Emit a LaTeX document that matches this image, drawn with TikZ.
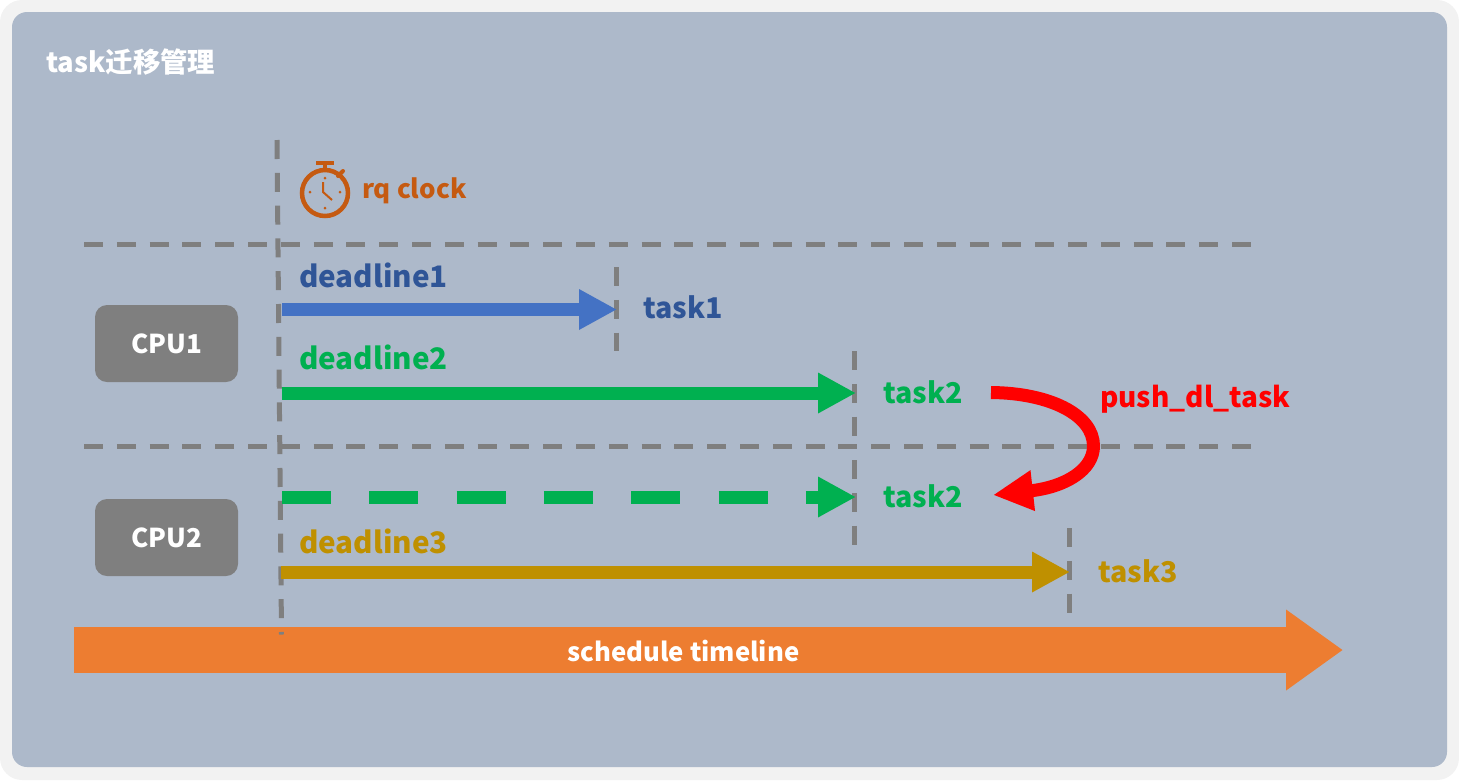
\documentclass[tikz,border=0pt]{standalone}
\usepackage{fontspec}
\setmainfont{Noto Sans CJK SC}
\usetikzlibrary{arrows.meta}

\definecolor{framegray}{HTML}{F2F2F2}
\definecolor{panelblue}{HTML}{ADB9CA}
\definecolor{linegray}{HTML}{7F7F7F}
\definecolor{taskblue}{HTML}{2F5597}
\definecolor{arrowblue}{HTML}{4472C4}
\definecolor{taskgreen}{HTML}{00B050}
\definecolor{taskgold}{HTML}{BF9000}
\definecolor{clockorange}{HTML}{C55A11}
\definecolor{timeorange}{HTML}{ED7D31}

\tikzset{
    guide/.style={draw=linegray, line width=5pt, dash pattern=on 19pt off 13.8pt},
    cpubox/.style={fill=linegray, rounded corners=12pt, minimum width=143pt, minimum height=77pt, inner sep=0pt, text=white, font=\fontsize{26}{26}\selectfont\bfseries},
    label/.style={inner sep=0pt, font=\fontsize{28.6}{28.6}\selectfont\bfseries},
    deadlabel/.style={label, anchor=west, font=\fontsize{29.6}{29.6}\selectfont\bfseries},
    deadline/.style={line width=13pt, -{Triangle[length=38pt,width=38pt]}}
}

\begin{document}
\begin{tikzpicture}[x=1pt, y=-1pt]
    \useasboundingbox (0,0) rectangle (1459,780);
    \fill [framegray, rounded corners=22pt] (0,0) rectangle (1459,780);
    \fill [panelblue, rounded corners=15pt] (12,12) rectangle (1447,767);

    \node [label, text=white, anchor=west, font=\fontsize{27.4}{27.4}\selectfont\bfseries] (title) at (46,62) {task迁移管理};

    % timeline
    \coordinate (timeFrom) at (74,650);
    \coordinate (timeTo) at (1343,650);
    \draw [timeorange, line width=46pt, -{Triangle[length=57pt,width=77pt]}] (timeFrom) -- (timeTo);
    \node [label, text=white, font=\fontsize{25.7}{25.7}\selectfont\bfseries] (timeLabel) at (683.5,651) {schedule timeline};

    % guides
    \coordinate (zeroTop) at (277,140);
    \coordinate (zeroEnd) at (281.5,634.5);
    \coordinate (rowA) at (84,244);
    \coordinate (rowAEnd) at (1252,244);
    \coordinate (rowB) at (84,446);
    \coordinate (rowBEnd) at (1252,446);
    \coordinate (endOneTop) at (616,267);
    \coordinate (endOne) at (617,309.5);
    \coordinate (endOneEnd) at (616,351);
    \coordinate (endTwoTop) at (854,351);
    \coordinate (endTwo) at (856,393);
    \coordinate (endTwoEnd) at (854,436);
    \coordinate (endPushTop) at (854,460);
    \coordinate (endPushEnd) at (854,545);
    \coordinate (endThreeTop) at (1069,528);
    \coordinate (endThree) at (1070,572);
    \coordinate (endThreeEnd) at (1069,613);
    \draw [guide] (zeroTop) -- (zeroEnd);
    \draw [guide] (rowA) -- (rowAEnd);
    \draw [guide] (rowB) -- (rowBEnd);
    \draw [guide] (endOneTop) -- (endOneEnd);
    \draw [guide] (endTwoTop) -- (endTwoEnd);
    \draw [guide] (endPushTop) -- (endPushEnd);
    \draw [guide] (endThreeTop) -- (endThreeEnd);

    % stopwatch
    \draw [clockorange, line width=4.5pt] (325,193) circle (23);
    \draw [clockorange, line width=4.5pt] (316,163) -- (334,163);
    \draw [clockorange, line width=4pt] (325,163) -- (325,170);
    \draw [clockorange, line width=4pt, line cap=round] (338,176) -- (343,171);
    \draw [clockorange, line width=2pt] (323,182) -- (323,192) -- (332,200);
    \foreach \dotx/\doty in {325/178, 310/192, 340/192, 325/208}
        \fill [clockorange] (\dotx,\doty) circle (1.5);
    \node [label, text=clockorange, anchor=west, font=\fontsize{26}{26}\selectfont\bfseries] (clockLabel) at (362,191) {rq clock};

    \node [cpubox] (cpuOne) at (166.5,343.5) {\raisebox{-2.5pt}{CPU1}};
    \node [cpubox] (cpuTwo) at (166.5,537.5) {\raisebox{-2.5pt}{CPU2}};

    % deadlines
    \coordinate (startOne) at (282,309.5);
    \coordinate (startTwo) at (282,393);
    \coordinate (startPush) at (282,497);
    \coordinate (endPush) at (856,497);
    \coordinate (startThree) at (281,572);
    \node [deadlabel, text=taskblue] (deadOne) at (299,275) {deadline1};
    \node [deadlabel, text=taskgreen] (deadTwo) at (299,357.5) {deadline2};
    \node [deadlabel, text=taskgold] (deadThree) at (299,541.5) {deadline3};
    \node [label, text=taskblue, anchor=west] (taskOne) at (643,307) {task1};
    \node [label, text=taskgreen, anchor=west] (taskTwo) at (883,392) {task2};
    \node [label, text=taskgreen, anchor=west] (taskTwoB) at (883,496) {task2};
    \node [label, text=taskgold, anchor=west] (taskThree) at (1098,571.5) {task3};
    \draw [deadline, arrowblue] (startOne) -- (endOne);
    \draw [deadline, taskgreen] (startTwo) -- (endTwo);
    \draw [deadline, taskgreen, dash pattern=on 49pt off 38.3pt] (startPush) -- (endPush);
    \draw [deadline, taskgold] (startThree) -- (endThree);

    % migration
    \node [label, text=red, anchor=west, font=\fontsize{28}{28}\selectfont\bfseries] (pushLabel) at (1100,399) {push\_dl\_task};
    \coordinate (pushFrom) at (991,392.5);
    \coordinate (pushTo) at (993,495);
    \draw [red, line width=13pt, -{Triangle[length=40pt,width=38pt]}] (pushFrom) .. controls (1050,393) and (1093.5,415) .. (1093.5,446) .. controls (1093.5,470) and (1065,487) .. (pushTo);
\end{tikzpicture}
\end{document}
